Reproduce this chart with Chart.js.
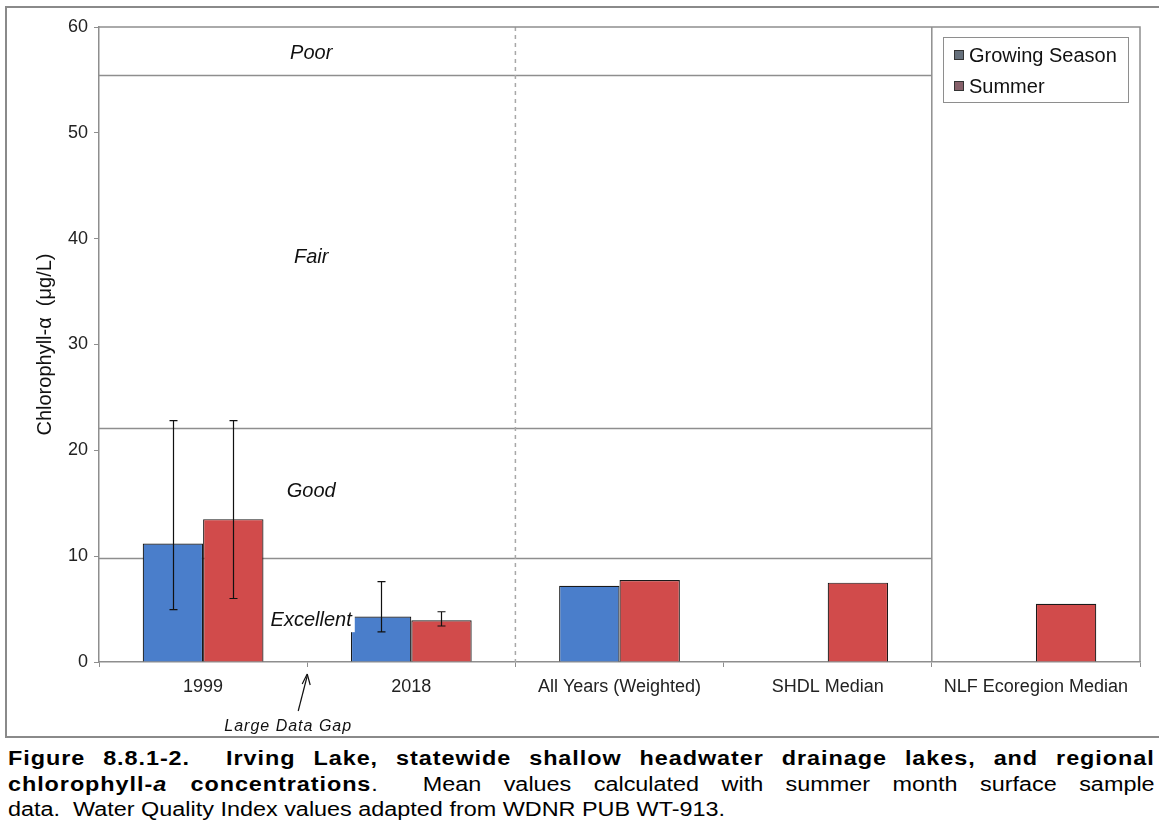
<!DOCTYPE html>
<html>
<head>
<meta charset="utf-8">
<script src="https://cdn.jsdelivr.net/npm/chart.js@4"></script>
<style>
  body { margin: 0; background: #fff; font-family: "Liberation Sans", Arial, sans-serif; }
  #frame { position: absolute; left: 5px; top: 6px; width: 1152px; height: 728px;
           border-left: 2px solid #8a8a8a; border-top: 2px solid #8a8a8a; border-bottom: 2px solid #8a8a8a; }
  #wrap { position: absolute; left: 0; top: 0; width: 1162px; height: 735px; }
  #caption { position: absolute; left: 8px; top: 746px; width: 980px; font-size: 20px; line-height: 25.5px; color: #000;
             transform: scaleX(1.17); transform-origin: 0 0; }
  #caption b { letter-spacing: 0.8px; }
  .j { text-align: justify; text-align-last: justify; }
</style>
</head>
<body>
<div id="frame"></div>
<div id="wrap"><canvas id="chart" width="1162" height="735"></canvas></div>
<div id="caption">
  <div class="j"><b>Figure 8.8.1-2.&nbsp; Irving Lake, statewide shallow headwater drainage lakes, and regional</b></div>
  <div class="j"><b>chlorophyll-<i>a</i> concentrations</b>.&nbsp; Mean values calculated with summer month surface sample</div>
  <div>data.&nbsp; Water Quality Index values adapted from WDNR PUB WT-913.</div>
</div>
<script>
// data
const categories = ['1999', '2018', 'All Years (Weighted)', 'SHDL Median', 'NLF Ecoregion Median'];
const growingSeason = [11.2, 4.3, 7.2, null, null];
const summer = [13.5, 3.95, 7.75, 7.5, 5.5];
const growingLow = [4.95, 2.85, null, null, null];
const growingHigh = [22.8, 7.6, null, null, null];
const summerLow = [6.0, 3.4, null, null, null];
const summerHigh = [22.8, 4.75, null, null, null];
const yTicks = [0, 10, 20, 30, 40, 50, 60];
// water quality index
const thresholds = [9.8, 22.1, 55.5];
const zoneNames = ['Excellent', 'Good', 'Fair', 'Poor'];
const zoneLabelAt = [3.95, 16.1, 38.2, 57.5];

const FONT = '"Liberation Sans", Arial';
const ctx = document.getElementById('chart');

// middle between two categories
const between = (x, i) => (x.getPixelForValue(i) + x.getPixelForValue(i + 1)) / 2;

const zones = {
  id: 'zones',
  beforeDatasetsDraw(chart) {
    const { ctx, chartArea: a, scales: { x, y } } = chart;
    const split = between(x, 3);
    ctx.save();
    ctx.strokeStyle = '#8e8e8e';
    ctx.lineWidth = 1.5;
    thresholds.forEach(t => {
      const py = Math.round(y.getPixelForValue(t)) + 0.5;
      ctx.beginPath(); ctx.moveTo(a.left, py); ctx.lineTo(split, py); ctx.stroke();
    });
    // solid line before NLF
    ctx.beginPath(); ctx.moveTo(split, a.top); ctx.lineTo(split, a.bottom); ctx.stroke();
    // dashed line after 2018
    const gap = between(x, 1);
    ctx.setLineDash([4, 4]);
    ctx.strokeStyle = '#a8a8a8';
    ctx.beginPath(); ctx.moveTo(gap, a.top); ctx.lineTo(gap, a.bottom); ctx.stroke();
    ctx.restore();
  },
  afterDatasetsDraw(chart) {
    const { ctx, scales: { x, y } } = chart;
    ctx.save();
    // error bars
    const errs = [[growingLow, growingHigh], [summerLow, summerHigh]];
    errs.forEach(([lo, hi], d) => {
      const meta = chart.getDatasetMeta(d);
      lo.forEach((v, i) => {
        if (v == null) return;
        const px = Math.round(meta.data[i].x) + 0.5;
        const y1 = y.getPixelForValue(v), y2 = y.getPixelForValue(hi[i]);
        ctx.strokeStyle = '#111';
        ctx.lineWidth = 1.2;
        ctx.beginPath();
        ctx.moveTo(px, y1); ctx.lineTo(px, y2);
        ctx.moveTo(px - 4, y1); ctx.lineTo(px + 4, y1);
        ctx.moveTo(px - 4, y2); ctx.lineTo(px + 4, y2);
        ctx.stroke();
      });
    });
    // zone names
    const cx = between(x, 0) + 4;
    ctx.font = 'italic 20px ' + FONT;
    ctx.textAlign = 'center';
    ctx.textBaseline = 'middle';
    zoneNames.forEach((n, i) => {
      const py = y.getPixelForValue(zoneLabelAt[i]);
      if (n === 'Excellent') {
        const w = ctx.measureText(n).width;
        ctx.fillStyle = '#fff';
        ctx.fillRect(cx - w / 2 - 3, py - 12, w + 6, 24);
      }
      ctx.fillStyle = '#111';
      ctx.fillText(n, cx, py);
    });
    // large data gap note
    const gx = between(x, 0);
    ctx.strokeStyle = '#111';
    ctx.fillStyle = '#111';
    ctx.lineWidth = 1.2;
    ctx.beginPath(); ctx.moveTo(gx - 9, 711); ctx.lineTo(gx, 676); ctx.stroke();
    ctx.beginPath(); ctx.moveTo(gx, 674); ctx.lineTo(gx - 5, 684); ctx.moveTo(gx, 674); ctx.lineTo(gx + 3, 685); ctx.stroke();
    ctx.font = 'italic 16px ' + FONT;
    ctx.letterSpacing = '1px';
    ctx.fillText('Large Data Gap', gx - 19, 727);
    ctx.letterSpacing = '0px';
    // legend
    ctx.fillStyle = '#fff';
    ctx.fillRect(943, 37, 185, 65);
    ctx.strokeStyle = '#8e8e8e';
    ctx.lineWidth = 1;
    ctx.strokeRect(943.5, 37.5, 185, 65);
    const swatch = ['#66707c', '#86606a'];
    ctx.font = '20px ' + FONT;
    ctx.textAlign = 'left';
    chart.data.datasets.forEach((ds, i) => {
      const ly = 55 + i * 31;
      ctx.fillStyle = swatch[i];
      ctx.fillRect(954, ly - 5, 10, 10);
      ctx.strokeStyle = '#333';
      ctx.strokeRect(954.5, ly - 4.5, 9, 9);
      ctx.fillStyle = '#111';
      ctx.fillText(ds.label, 969, ly + 1);
    });
    ctx.restore();
  }
};

new Chart(ctx, {
  type: 'bar',
  data: {
    labels: categories,
    datasets: [
      { label: 'Growing Season', data: growingSeason, backgroundColor: '#4a7ecb', borderColor: '#1a1a1a', borderWidth: 1.2 },
      { label: 'Summer', data: summer, backgroundColor: '#d14b4b', borderColor: '#1a1a1a', borderWidth: 1.2 }
    ]
  },
  options: {
    responsive: false,
    animation: false,
    devicePixelRatio: 1,
    layout: { padding: { top: 27, right: 22, left: 0, bottom: 0 } },
    datasets: { bar: { categoryPercentage: 0.58, barPercentage: 1.0 } },
    plugins: { legend: { display: false }, tooltip: { enabled: false } },
    scales: {
      x: {
        afterFit(s) { s.height = 73; },
        grid: { drawOnChartArea: false, drawTicks: true, tickLength: 5, color: '#8e8e8e' },
        border: { color: '#8e8e8e', width: 1.5 },
        ticks: { color: '#222', font: { family: FONT, size: 18 }, padding: 9, maxRotation: 0 }
      },
      y: {
        min: 0, max: 60,
        afterFit(s) { s.width = 99; },
        afterBuildTicks(s) { s.ticks = yTicks.map(v => ({ value: v })); },
        grid: { drawOnChartArea: false, drawTicks: true, tickLength: 5, color: '#8e8e8e' },
        border: { color: '#8e8e8e', width: 1.5 },
        ticks: { color: '#222', font: { family: FONT, size: 18 }, padding: 6 },
        title: { display: true, text: 'Chlorophyll-α  (μg/L)', color: '#111',
                 font: { family: FONT, size: 20 }, padding: { top: 33, bottom: 0 } }
      }
    }
  },
  plugins: [zones, {
    id: 'frameTop',
    afterDraw(chart) {
      const { ctx, chartArea: a } = chart;
      ctx.save();
      ctx.strokeStyle = '#8e8e8e';
      ctx.lineWidth = 1.5;
      ctx.beginPath();
      ctx.moveTo(a.left, a.top); ctx.lineTo(a.right, a.top); ctx.lineTo(a.right, a.bottom);
      ctx.stroke();
      ctx.restore();
    }
  }]
});
</script>
</body>
</html>
